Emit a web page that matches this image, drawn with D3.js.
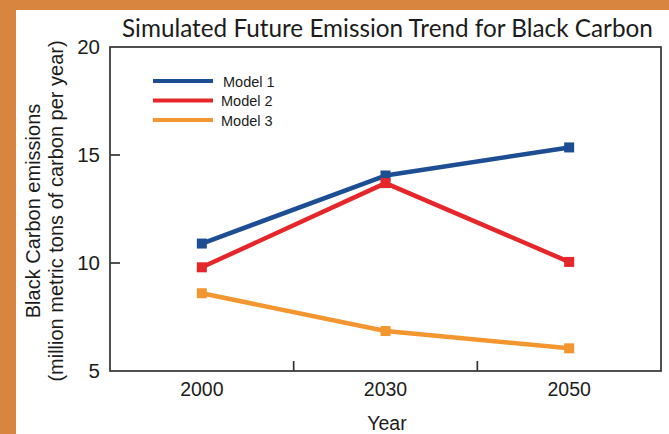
<!DOCTYPE html>
<html>
<head>
<meta charset="utf-8">
<script src="https://cdn.jsdelivr.net/npm/d3@7"></script>
<style>
  html, body { margin: 0; padding: 0; background: #d8863f; }
  svg { display: block; }
</style>
</head>
<body>
<svg id="chart" width="669" height="434"></svg>
<script>
const years = ["2000", "2030", "2050"];
const model1 = [10.9, 14.05, 15.35];
const model2 = [9.8, 13.7, 10.05];
const model3 = [8.6, 6.85, 6.05];
const seriesNames = ["Model 1", "Model 2", "Model 3"];
const seriesColors = ["#1d4e93", "#e5272b", "#f3962f"];
const yTicks = [5, 10, 15, 20];

var svg = d3.select("#chart");

// white panel over the orange frame
svg.append("rect")
    .attr("x", 16).attr("y", 10)
    .attr("width", 669 - 16).attr("height", 434 - 10)
    .attr("fill", "#ffffff");

var margin = { top: 47, right: 8, bottom: 63, left: 110 },
    width = 669 - margin.left - margin.right,
    height = 434 - margin.top - margin.bottom;

var g = svg.append("g")
    .attr("transform", "translate(" + margin.left + "," + margin.top + ")");

var x = d3.scaleBand().domain(years).range([0, width]).padding(0);
var y = d3.scaleLinear().domain([5, 20]).range([height, 0]);

var ink = "#1c1c1c";

// frame
g.append("rect")
    .attr("width", width).attr("height", height)
    .attr("fill", "none")
    .attr("stroke", "#333")
    .attr("stroke-width", 1.7);

// x ticks between categories, pointing inward
g.selectAll(".xtick")
    .data(years.slice(1))
    .join("line")
    .attr("x1", d => x(d)).attr("x2", d => x(d))
    .attr("y1", height).attr("y2", height - 10)
    .attr("stroke", "#333").attr("stroke-width", 1.7);

g.selectAll(".xlabel")
    .data(years)
    .join("text")
    .attr("x", d => x(d) + x.bandwidth() / 2)
    .attr("y", height + 25)
    .attr("text-anchor", "middle")
    .attr("font-family", "Liberation Sans, Arial, sans-serif")
    .attr("font-size", 19.5)
    .attr("fill", ink)
    .text(d => d);

// y ticks, inward
g.selectAll(".ytick")
    .data(yTicks.slice(1, -1))
    .join("line")
    .attr("x1", 0).attr("x2", 10)
    .attr("y1", d => y(d)).attr("y2", d => y(d))
    .attr("stroke", "#333").attr("stroke-width", 1.7);

g.selectAll(".ylabel")
    .data(yTicks)
    .join("text")
    .attr("x", -10)
    .attr("y", d => y(d))
    .attr("dy", "0.36em")
    .attr("text-anchor", "end")
    .attr("font-family", "Liberation Sans, Arial, sans-serif")
    .attr("font-size", 20.5)
    .attr("fill", ink)
    .text(d => d);

// lines and square markers
var allSeries = [model1, model2, model3];
var line = d3.line()
    .x((d, i) => x(years[i]) + x.bandwidth() / 2)
    .y(d => y(d));

allSeries.forEach(function (vals, s) {
    g.append("path")
        .attr("d", line(vals))
        .attr("fill", "none")
        .attr("stroke", seriesColors[s])
        .attr("stroke-width", 4.5)
        .attr("stroke-linejoin", "round");
    g.selectAll(".m" + s)
        .data(vals)
        .join("rect")
        .attr("x", (d, i) => x(years[i]) + x.bandwidth() / 2 - 5)
        .attr("y", d => y(d) - 5)
        .attr("width", 10).attr("height", 10)
        .attr("fill", seriesColors[s]);
});

// legend
var legend = g.append("g").attr("transform", "translate(43,34)");
seriesNames.forEach(function (name, i) {
    var row = legend.append("g").attr("transform", "translate(0," + (i * 19.5) + ")");
    row.append("line")
        .attr("x1", 0).attr("x2", 60)
        .attr("stroke", seriesColors[i])
        .attr("stroke-width", 4);
    row.append("text")
        .attr("x", i == 0 ? 70 : 68)
        .attr("y", 5.5)
        .attr("font-family", "Liberation Sans, Arial, sans-serif")
        .attr("font-size", 14.5)
        .attr("fill", ink)
        .text(name);
});

// title
var title = svg.append("text")
    .attr("x", 122)
    .attr("y", 36.5)
    .attr("font-family", "Lato, sans-serif")
    .attr("font-size", 26)
    .attr("fill", ink)
    .text("Simulated Future Emission Trend for Black Carbon");
var tw = title.node().getComputedTextLength();
title.attr("font-size", 26 * 531 / tw);

// axis titles
svg.append("text")
    .attr("x", 387)
    .attr("y", 430)
    .attr("text-anchor", "middle")
    .attr("font-family", "Liberation Sans, Arial, sans-serif")
    .attr("font-size", 19.5)
    .attr("fill", ink)
    .text("Year");

var yt = svg.append("text")
    .attr("transform", "translate(40,211) rotate(-90)")
    .attr("text-anchor", "middle")
    .attr("font-family", "Liberation Sans, Arial, sans-serif")
    .attr("font-size", 20)
    .attr("fill", ink);
yt.append("tspan").attr("x", 0).attr("y", 0).text("Black Carbon emissions");
yt.append("tspan").attr("x", 0).attr("y", 23).text("(million metric tons of carbon per year)");
</script>
</body>
</html>
